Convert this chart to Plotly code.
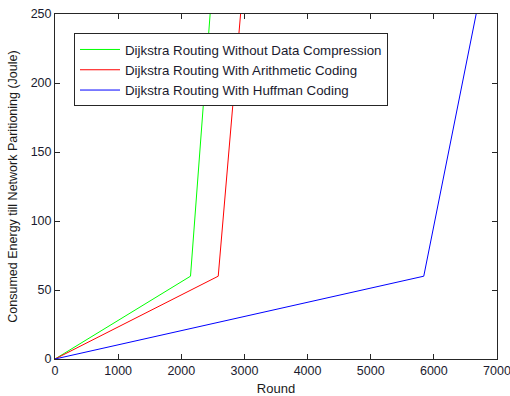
import plotly.graph_objects as go

names = ["Dijkstra Routing Without Data Compression",
         "Dijkstra Routing With Arithmetic Coding",
         "Dijkstra Routing With Huffman Coding"]
colors = ["#00ff00", "#ff0000", "#0000ff"]

green_x = [0, 2146, 2457]
green_y = [0, 60, 250]
red_x = [0, 2585, 2939]
red_y = [0, 60, 250]
blue_x = [0, 5840, 6670]
blue_y = [0, 60, 250]

xs = [green_x, red_x, blue_x]
ys = [green_y, red_y, blue_y]

x_ticks = [0, 1000, 2000, 3000, 4000, 5000, 6000, 7000]
y_ticks = [0, 50, 100, 150, 200, 250]

FONT = "Liberation Sans, Arial"

fig = go.Figure()
for n, c, x, y in zip(names, colors, xs, ys):
    fig.add_trace(go.Scatter(x=x, y=y, mode="lines", name=n,
                             line=dict(color=c, width=1)))

axis_common = dict(showgrid=False, zeroline=False, showline=True, linecolor="#262626",
                   linewidth=1, mirror="ticks", ticks="inside", ticklen=5,
                   tickcolor="#262626", ticklabeloverflow="allow", automargin=False,
                   tickfont=dict(family=FONT, size=12.5, color="#1a1a2e"))

fig.update_xaxes(range=[0, 7000], tickvals=x_ticks,
                 title=dict(text="Round", standoff=6,
                            font=dict(family=FONT, size=13, color="#1a1a1a")),
                 **axis_common)
fig.update_yaxes(range=[0, 250], tickvals=y_ticks,
                 title=dict(text="Consumed Energy till Network Paritioning (Joule)", standoff=10,
                            font=dict(family=FONT, size=12.5, color="#1a1a1a")),
                 **axis_common)

fig.update_layout(
    width=510, height=396,
    margin=dict(l=55, r=13, t=14, b=37, autoexpand=False),
    paper_bgcolor="white", plot_bgcolor="white",
    showlegend=True,
    legend=dict(x=0.043, y=0.944, xanchor="left", yanchor="top",
                bgcolor="white", bordercolor="#262626", borderwidth=1,
                font=dict(family=FONT, size=13.3, color="#1a1a2e"),
                tracegroupgap=0, itemwidth=40),
)

fig.write_html("out.html")
